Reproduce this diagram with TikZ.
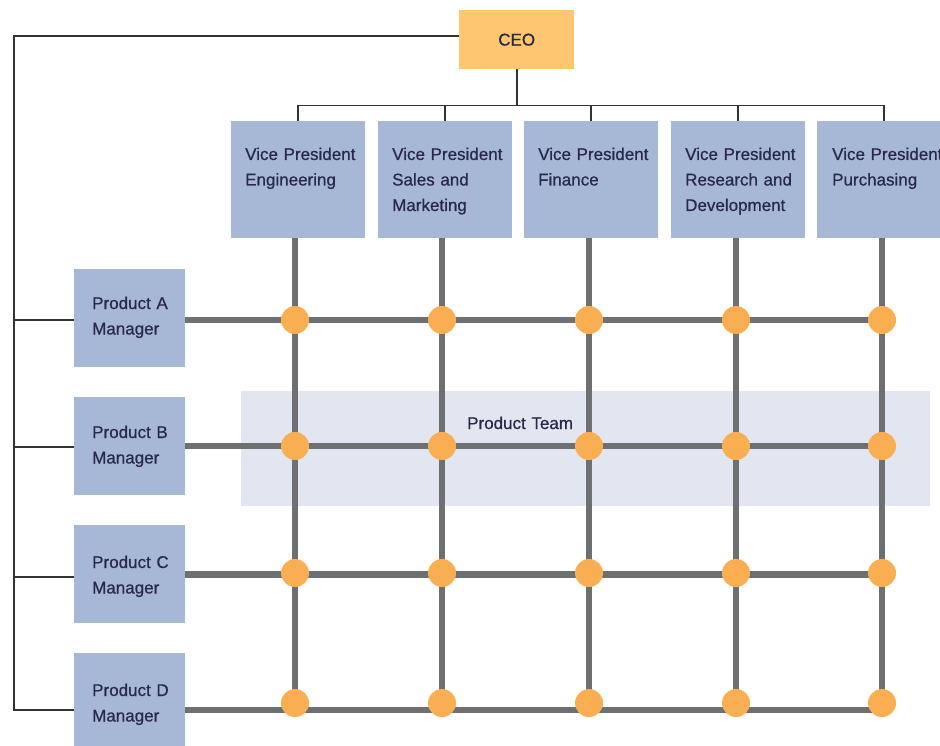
\documentclass[tikz,border=0pt]{standalone}
\usepackage{fontspec}
\setmainfont{Liberation Sans}
\newfontfamily\lblfont[FakeBold=0.6]{Liberation Sans}
\definecolor{boxblue}{HTML}{A7B8D7}
\definecolor{ceoorange}{HTML}{FEC670}
\definecolor{bandblue}{HTML}{E1E6F0}
\definecolor{dotorange}{HTML}{F9AE52}
\definecolor{gridgray}{HTML}{6E6F71}
\definecolor{txt}{HTML}{2A2848}
\definecolor{orgline}{HTML}{333333}
\tikzset{
  boxnode/.style={fill=boxblue, draw=none, anchor=north west, inner sep=0pt},
  vpbox/.style={boxnode, minimum width=134pt, minimum height=117pt},
  pmbox/.style={boxnode, minimum width=111pt, minimum height=98pt},
  lbl/.style={text=txt, font=\lblfont\fontsize{17}{25.5}\selectfont, inner sep=0pt, anchor=base west, text width=150pt, align=left},
  orgconn/.style={draw=orgline, line width=1.6pt},
  gridln/.style={draw=gridgray, line width=6pt},
  dot/.style={circle, fill=dotorange, draw=none, minimum size=28pt, inner sep=0pt},
}
\begin{document}
\begin{tikzpicture}[x=1pt, y=-1pt]
\useasboundingbox (0,0) rectangle (940,746);
\clip (0,0) rectangle (940,746);
% product team band
\node[fill=bandblue, anchor=north west, minimum width=689pt, minimum height=115pt, inner sep=0pt] (band) at (241,391) {};
\node[lbl] (bandtxt) at (467,429) {Product Team};
% CEO
\node[fill=ceoorange, anchor=north west, minimum width=115pt, minimum height=59pt, inner sep=0pt, text=txt, font=\lblfont\fontsize{17}{20}\selectfont] (ceo) at (459,10) {CEO};
% VP boxes
\node[vpbox] (vp1) at (231,121) {};
\node[vpbox] (vp2) at (378,121) {};
\node[vpbox] (vp3) at (524,121) {};
\node[vpbox] (vp4) at (671,121) {};
\node[vpbox] (vp5) at (817,121) {};
\node[lbl] (vp1t) at (245,160) {Vice President\\Engineering};
\node[lbl] (vp2t) at (392,160) {Vice President\\Sales and\\Marketing};
\node[lbl] (vp3t) at (538,160) {Vice President\\Finance};
\node[lbl] (vp4t) at (685,160) {Vice President\\Research and\\Development};
\node[lbl] (vp5t) at (832,160) {Vice President\\Purchasing};
% manager boxes
\node[pmbox] (pa) at (74,269) {};
\node[pmbox] (pb) at (74,397) {};
\node[pmbox] (pc) at (74,525) {};
\node[pmbox] (pd) at (74,653) {};
\node[lbl] (pat) at (92,309) {Product A\\Manager};
\node[lbl] (pbt) at (92,438) {Product B\\Manager};
\node[lbl] (pct) at (92,568) {Product C\\Manager};
\node[lbl] (pdt) at (92,696) {Product D\\Manager};
% org lines
\coordinate (bus) at ([yshift=-36pt]ceo.south);
\draw[orgconn] (ceo.south) -- (bus);
\foreach \v in {vp1,vp2,vp3,vp4,vp5}{
  \draw[orgconn] (bus) -| (\v.north);
}
\coordinate (lt) at (14,36);
\coordinate (rA) at (14,320);
\coordinate (rB) at (14,447);
\coordinate (rC) at (14,577);
\coordinate (rD) at (14,710);
\draw[orgconn] (ceo.west |- lt) -- (lt) -- (rD) -- (pd.west |- rD);
\draw[orgconn] (rA) -- (pa.west |- rA);
\draw[orgconn] (rB) -- (pb.west |- rB);
\draw[orgconn] (rC) -- (pc.west |- rC);
% grid
\coordinate (c1) at (295,0);
\coordinate (c2) at (442,0);
\coordinate (c3) at (589,0);
\coordinate (c4) at (736,0);
\coordinate (c5) at (882,0);
\foreach \c/\v in {c1/vp1,c2/vp2,c3/vp3,c4/vp4,c5/vp5}{
  \draw[gridln] (\v.south -| \c) -- (\c |- 0,710);
}
\draw[gridln] (pa.east |- 0,320) -- (882,320);
\draw[gridln] (pb.east |- 0,446) -- (882,446);
\draw[gridln, line width=7pt] (pc.east |- 0,574) -- (882,574);
\draw[gridln] (pd.east |- 0,710) -- (882,710);
\foreach \c [count=\i] in {295,442,589,736,882}{
  \node[dot] (dA\i) at (\c,320) {};
  \node[dot] (dB\i) at (\c,446) {};
  \node[dot] (dC\i) at (\c,573) {};
  \node[dot] (dD\i) at (\c,703) {};
}
\end{tikzpicture}
\end{document}
